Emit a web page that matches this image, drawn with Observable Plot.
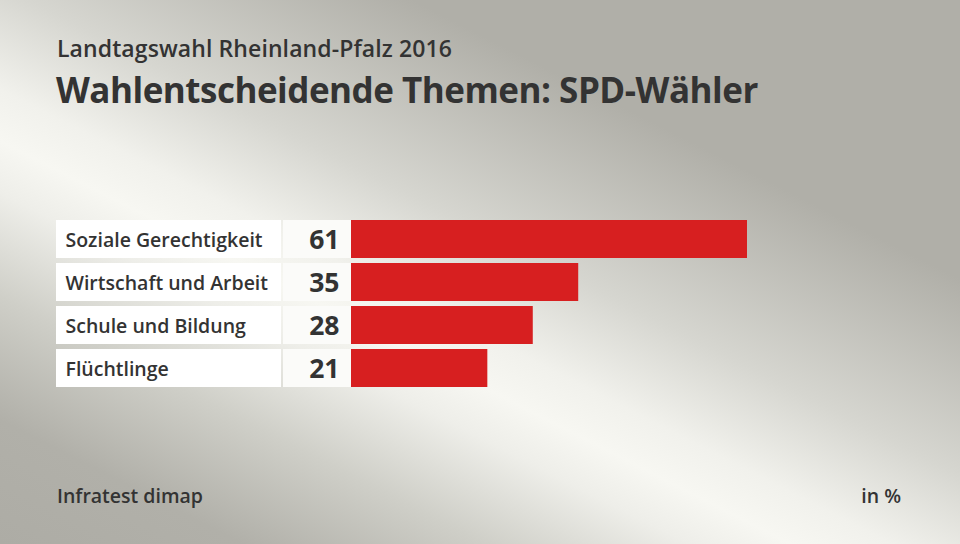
<!DOCTYPE html>
<html>
<head>
<meta charset="utf-8">
<script src="https://cdn.jsdelivr.net/npm/d3@7"></script>
<script src="https://cdn.jsdelivr.net/npm/@observablehq/plot@0.6"></script>
<style>
  html, body { margin: 0; padding: 0; }
  #wrap {
    position: relative; width: 960px; height: 544px; overflow: hidden;
    font-family: "Open Sans", sans-serif; color: #333;
    background: linear-gradient(207deg, #b0afa8 0%, #b0afa8 27%, #d6d6d0 46%, #f1f1ec 56%, #f7f7f2 61%, #eeeee9 66%, #cfcfc8 76%, #b1b0a9 88%, #adaca5 100%);
  }
  .t { position: absolute; white-space: nowrap; line-height: 1; }
  #sub { left: 57px; top: 37px; font-size: 23px; font-weight: 600; letter-spacing: 0.1px; }
  #title { left: 56px; top: 72px; font-size: 35px; font-weight: 700; letter-spacing: -0.5px; }
  #src { left: 57px; top: 486px; font-size: 19.5px; font-weight: 600; }
  #unit { right: 59px; top: 486px; font-size: 19.5px; font-weight: 600; }
  #chart { position: absolute; left: 0; top: 0; }
</style>
</head>
<body>
<div id="wrap">
  <div class="t" id="sub">Landtagswahl Rheinland-Pfalz 2016</div>
  <div class="t" id="title">Wahlentscheidende Themen: SPD-Wähler</div>
  <div id="chart"></div>
  <div class="t" id="src">Infratest dimap</div>
  <div class="t" id="unit">in %</div>
</div>
<script>
const topics = ["Soziale Gerechtigkeit", "Wirtschaft und Arbeit", "Schule und Bildung", "Flüchtlinge"];
const shares = [61, 35, 28, 21];

const rows = topics.map((t, i) => ({topic: t, value: shares[i]}));

const chart = Plot.plot({
  width: 960,
  height: 544,
  marginLeft: 351,
  marginRight: 213,
  marginTop: 219.3,
  marginBottom: 544 - 386.7,
  x: {domain: [0, 61], axis: null},
  y: {domain: topics, axis: null, paddingInner: 5 / 43, paddingOuter: 0},
  style: {background: "transparent", fontFamily: "Open Sans, sans-serif", overflow: "visible"},
  marks: [
    Plot.barX(rows, {y: "topic", x1: 0, x2: 0, insetLeft: -295, insetRight: 70, fill: "#ffffff"}),
    Plot.barX(rows, {y: "topic", x1: 0, x2: 0, insetLeft: -68, insetRight: 0, fill: "#fbfbf9"}),
    Plot.barX(rows, {y: "topic", x: "value", fill: "#d71f20"}),
    Plot.text(rows, {y: "topic", x: 0, text: "topic", textAnchor: "start", dx: -286, dy: 1.5,
      fontSize: 19.5, fontWeight: 600, fill: "#333"}),
    Plot.text(rows, {y: "topic", x: 0, text: d => String(d.value), textAnchor: "end", dx: -12, dy: 1,
      fontSize: 26.5, fontWeight: 700, fill: "#333"})
  ]
});
document.getElementById("chart").appendChild(chart);
</script>
</body>
</html>
